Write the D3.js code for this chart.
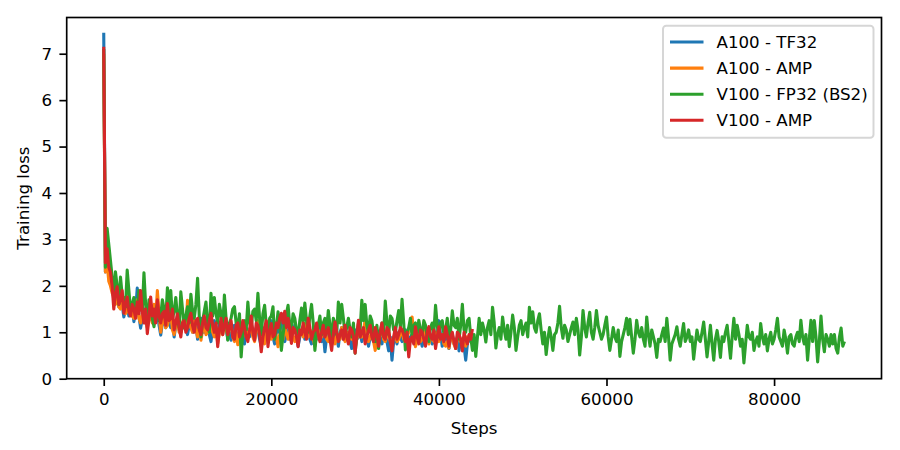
<!DOCTYPE html>
<html><head><meta charset="utf-8">
<script src="https://cdn.jsdelivr.net/npm/d3@7"></script>
<style>body{margin:0;background:#fff} text{font-family:"DejaVu Sans",sans-serif}</style>
</head><body><svg id="chart" width="900" height="450"></svg>
<script>
// ---- data ----
const seriesNames = ["A100 - TF32", "A100 - AMP", "V100 - FP32 (BS2)", "V100 - AMP"];
const seriesColors = ["#1f77b4", "#ff7f0e", "#2ca02c", "#d62728"];
const logInterval = 200; // steps between logged values

const a100Tf32 = [7.45,2.3, 2.6,2.35, 2.2,1.9, 2.16,1.8, 1.7,1.55, 1.85,1.6, 1.33,1.5, 1.6,1.35, 1.4,1.55, 1.23,1.45,
1.95,1.35, 1.09,1.3, 1.5,1.2, 1.3,1.45, 1.6,1.25, 1.2,1.35, 1.45,1.15, 0.94,1.2, 1.3,1.1, 1.5,1.2,
1.1,1.3, 0.9,1.15, 1.35,1.05, 1.0,1.2, 1.3,1.1, 0.95,1.15, 1.25,1.0, 1.1,1.2, 0.85,1.05, 1.3,1.0,
1.0,1.15, 1.2,0.95, 0.8,1.1, 1.25,1.0, 0.95,1.2, 1.1,1.3, 1.55,1.1, 0.85,1.0, 0.83,1.05, 1.15,0.95,
0.9,1.05, 1.2,0.95, 0.75,1.1, 1.0,0.9, 1.2,0.95, 0.85,1.1, 1.05,0.85, 0.7,1.0, 1.1,0.85, 0.9,1.1,
1.25,0.9, 0.75,1.0, 1.0,1.15, 1.3,1.0, 0.8,0.95, 1.05,0.85, 0.9,1.0, 1.15,0.95, 0.7,0.9, 1.0,1.1,
0.85,0.95, 1.1,0.85, 0.75,1.0, 0.95,0.85, 1.2,0.9, 0.8,1.0, 0.58,0.9, 1.33,1.05, 0.9,0.8, 1.0,0.9,
0.7,1.0, 1.1,0.85, 0.85,1.0, 0.95,0.8, 0.65,0.95, 1.05,0.85, 0.9,1.0, 0.8,0.95, 1.1,0.85, 0.7,0.9,
0.95,0.8, 0.85,1.05, 1.0,0.85, 0.75,0.95, 0.95,0.8, 0.6,0.9, 0.4,0.8, 0.9,0.75, 1.0,0.9, 0.8,0.95,
1.05,0.85, 0.62,0.9, 0.95,0.8, 0.8,0.95, 1.0,0.85, 0.7,0.9, 0.9,0.8, 1.05,0.9, 0.75,0.85, 1.0,0.9,
1.25,0.95, 0.7,0.85, 0.9,0.8, 0.65,0.9, 0.95,0.75, 0.8,0.9, 0.6,0.85, 0.85,0.7, 0.4,0.75, 0.9,0.8,
0.8];

const a100Amp = [7.0,2.3, 2.5,2.1, 2.0,1.85, 1.76,1.6, 1.9,1.55, 1.5,1.65, 1.75,1.4, 1.45,1.55, 1.6,1.35, 1.3,1.5,
1.7,1.3, 1.2,1.4, 1.45,1.25, 1.1,1.3, 1.35,1.2, 1.6,1.3, 1.9,1.4, 1.0,1.25, 1.3,1.1, 1.15,1.3,
1.4,1.05, 0.95,1.15, 1.25,1.0, 1.05,1.2, 1.35,1.1, 1.69,1.2, 1.1,1.0, 1.25,1.05, 0.9,1.1, 0.83,1.05,
1.2,0.95, 1.0,1.15, 1.3,1.0, 0.9,1.1, 0.76,1.0, 1.1,0.95, 1.3,1.05, 0.95,1.15, 1.15,0.9, 0.8,1.0,
0.73,0.95, 1.05,0.9, 1.2,1.0, 0.9,1.05, 1.1,0.9, 0.8,1.0, 1.25,1.0, 0.95,0.85, 0.75,1.0, 1.05,0.9,
0.85,1.05, 1.1,0.9, 0.69,0.95, 1.0,0.85, 1.2,0.95, 0.85,1.05, 1.0,0.9, 0.8,0.95, 0.83,1.0, 1.05,0.9,
1.19,0.95, 0.9,1.05, 1.0,0.85, 0.7,0.95, 1.05,0.85, 0.9,1.0, 1.1,0.85, 0.8,0.95, 1.0,0.85, 0.75,0.95,
0.95,0.85, 1.1,0.9, 0.8,1.0, 1.0,0.9, 0.85,0.95, 0.66,0.85, 1.0,0.9, 0.9,1.05, 1.26,0.95, 0.8,0.9,
1.05,0.8, 0.61,0.85, 0.9,0.95, 1.1,0.85, 0.8,0.95, 1.0,0.8, 0.75,0.9, 0.95,0.8, 0.85,0.95, 1.05,0.85,
0.8,0.9, 1.0,1.1, 1.33,0.95, 0.69,0.85, 0.95,0.8, 0.85,0.95, 1.05,0.9, 0.75,0.85, 0.9,0.8, 1.0,0.85,
0.8,0.9, 0.95,0.75, 0.7,0.8, 0.66,0.9, 0.9,0.75, 0.65,0.85, 0.95,0.8, 0.8,0.75, 0.7,0.9, 0.85];

const v100Fp32 = [7.1,2.4, 3.24,2.9, 2.55,2.2, 1.65,2.3, 2.0,1.6, 2.19,1.8, 1.7,1.55, 2.34,1.9, 1.47,1.6, 1.75,1.4,
1.5,1.9, 1.65,1.45, 2.28,1.6, 1.2,1.7, 1.55,1.3, 1.12,1.45, 1.6,1.25, 1.35,1.7, 1.5,1.25, 1.96,1.4,
1.9,1.3, 1.45,1.75, 1.33,1.1, 1.87,1.5, 1.09,1.35, 1.55,1.2, 1.82,1.45, 1.3,1.6, 2.16,1.35, 0.9,1.25,
1.45,1.65, 1.2,1.0, 1.84,1.35, 1.75,1.4, 1.2,1.6, 1.4,1.05, 1.8,1.3, 0.83,1.2, 1.3,1.5, 1.55,1.2,
1.1,1.4, 0.47,1.0, 1.25,1.05, 1.65,1.2, 1.1,1.45, 1.5,1.25, 1.84,1.3, 0.95,1.4, 1.58,1.15, 1.0,1.3,
1.35,1.55, 0.85,1.1, 1.44,1.2, 0.61,0.95, 1.2,1.4, 1.58,1.15, 1.05,1.4, 1.3,1.05, 0.9,1.25, 1.52,1.2,
1.63,1.25, 1.0,1.35, 1.6,1.2, 0.61,1.0, 1.15,1.35, 0.95,1.2, 1.3,1.0, 1.47,1.15, 0.85,1.3, 1.2,0.95,
1.65,1.2, 1.6,1.3, 0.95,1.1, 1.3,1.05, 0.9,1.2, 0.55,0.9, 1.2,1.05, 1.69,1.25, 1.6,1.15, 1.0,1.35,
1.25,0.95, 0.8,1.15, 0.65,1.0, 1.2,0.95, 1.67,1.2, 0.95,1.35, 1.3,1.05, 1.0,1.25, 1.47,1.1, 1.71,1.2,
0.62,1.0, 1.1,1.3, 0.9,1.15, 1.2,0.95, 1.26,1.05, 0.95,1.25, 1.15,0.9, 0.8,1.1, 1.2,1.0, 1.58,1.15,
0.9,1.2, 1.25,0.95, 1.05,1.3, 0.75,1.05, 1.46,1.15, 1.1,1.3, 0.85,1.15, 1.6,1.05, 1.0,1.25, 1.3,0.9,
0.61,0.95, 0.48,0.9, 1.3,0.95, 1.2,1.05, 0.79,1.1, 1.25,0.95, 1.54,1.2, 0.66,0.95, 1.1,0.85, 1.33,1.05,
0.85,1.15, 0.69,1.0, 1.37,1.1, 0.61,0.9, 1.15,1.25, 0.95,1.1, 1.2,0.9, 1.54,1.2, 1.44,1.1, 1.0,1.25,
1.4,1.05, 0.75,1.0, 0.52,0.85, 1.1,0.9, 0.61,0.95, 1.0,1.2, 1.56,1.1, 0.87,1.15, 1.05,0.8, 0.95,1.1,
1.22,0.95, 1.3,1.05, 0.51,0.9, 1.47,1.1, 0.9,1.2, 1.43,1.0, 0.85,1.1, 1.47,1.15, 1.0,0.85, 0.95,1.15,
1.33,0.9, 0.61,0.85, 1.1,0.9, 0.8,1.05, 0.48,0.8, 0.95,1.1, 1.3,0.95, 1.28,0.9, 0.55,0.85, 1.26,1.0,
0.9,1.1, 0.85,0.7, 1.33,0.95, 0.7,1.05, 0.9,0.75, 0.46,0.85, 0.8,0.95, 1.09,0.8, 1.3,0.9, 0.4,0.75,
0.85,0.95, 1.12,0.85, 0.7,0.95, 1.19,0.8, 0.9,1.05, 0.8,0.9, 0.42,0.75, 1.05,0.85, 0.8,1.0, 1.22,0.85,
0.47,0.8, 1.15,0.75, 0.4,0.85, 1.04,0.8, 0.46,0.9, 0.8,1.0, 1.15,0.8, 0.44,0.9, 1.3,0.85, 1.15,0.95,
0.7,0.85, 0.34,0.75, 1.15,0.9, 0.85,1.0, 0.61,0.8, 0.9,0.7, 1.19,0.9, 0.75,0.95, 0.6,0.85, 1.0,0.75,
0.85,1.05, 1.3,0.9, 0.8,0.7, 1.05,0.85, 0.55,0.9, 0.95,0.75, 0.7,0.9, 1.0,0.8, 1.26,0.9, 0.75,0.95,
0.4,0.85, 1.26,0.8, 1.25,0.9, 0.36,0.8, 1.35,0.85, 0.58,0.95, 0.85,0.7, 0.95,0.75, 0.95,0.65, 0.55,0.9,
1.09,0.7, 0.8];

const v100Amp = [7.15,2.5, 2.8,2.4, 2.3,2.0, 1.5,1.85, 1.98,1.6, 1.7,1.9, 1.41,1.6, 1.76,1.45, 1.35,1.6, 1.5,1.3,
1.65,1.4, 1.9,1.45, 1.2,1.5, 0.97,1.3, 1.76,1.35, 1.5,1.2, 1.7,1.35, 1.2,1.4, 1.45,1.15, 1.62,1.25,
1.3,1.5, 1.05,1.2, 1.4,1.1, 0.9,1.2, 1.25,1.0, 1.1,1.3, 1.41,1.15, 1.0,1.25, 1.3,1.05, 0.95,1.2,
1.35,1.1, 1.05,1.25, 1.41,1.15, 1.0,1.2, 0.69,1.05, 1.3,0.95, 1.15,1.3, 0.95,1.1, 1.25,0.9, 0.85,1.15,
1.2,0.9, 1.0,1.25, 1.1,0.9, 0.8,1.05, 1.35,1.0, 0.83,1.2, 1.15,0.95, 0.58,0.9, 1.1,1.25, 0.69,1.0,
1.19,0.9, 0.95,1.2, 1.1,1.3, 1.41,1.2, 1.45,1.1, 1.3,1.05, 0.76,1.1, 1.05,0.9, 0.69,1.05, 0.95,1.2,
1.0,0.85, 1.3,1.1, 0.85,1.0, 1.05,1.2, 0.95,0.8, 1.0,1.15, 0.9,1.0, 1.1,0.85, 0.61,0.95, 1.22,1.0,
0.8,0.95, 1.05,0.85, 1.15,0.9, 0.75,1.1, 1.05,0.9, 0.55,0.95, 1.26,0.9, 1.0,1.1, 0.75,0.9, 1.05,1.15,
0.9,0.8, 1.1,0.95, 0.7,1.0, 1.2,0.9, 0.85,1.1, 1.05,0.8, 0.6,0.9, 1.1,0.85, 0.95,1.1, 1.05,0.95,
0.8,1.0, 0.47,0.85, 0.9,0.75, 1.12,0.9, 0.75,1.05, 1.0,0.85, 0.7,1.0, 1.12,0.9, 0.85,1.05, 0.65,0.9,
1.12,0.85, 0.95,0.8, 1.12,0.95, 0.7,0.9, 1.0,0.8, 0.65,1.0, 0.95,0.85, 0.6,1.0, 0.85,0.75, 0.95,0.85,
1.07];

const seriesValues = [a100Tf32, a100Amp, v100Fp32, v100Amp];
const xTicks = [0, 20000, 40000, 60000, 80000];
const yTicks = [0, 1, 2, 3, 4, 5, 6, 7];
const xLabel = "Steps";
const yLabel = "Training loss";

// ---- layout ----
const L = 66.7, R = 881.5, T = 17.5, B = 378.7;
const FS = 16.67;
const svg = d3.select("#chart");

const x = d3.scaleLinear().domain([-4420, 92820]).range([L, R]);
const y = d3.scaleLinear().domain([0, 7.78]).range([B, T]);

svg.append("defs").append("clipPath").attr("id", "clip")
  .append("rect").attr("x", L).attr("y", T).attr("width", R - L).attr("height", B - T);

const line = d3.line()
  .x((d, i) => x(i * logInterval))
  .y(d => y(d));

const plot = svg.append("g").attr("clip-path", "url(#clip)");
seriesValues.forEach((vals, k) => {
  plot.append("path").datum(vals)
    .attr("d", line)
    .attr("fill", "none")
    .attr("stroke", seriesColors[k])
    .attr("stroke-width", 3.1)
    .attr("stroke-linejoin", "round");
});

// axes
const xAxis = d3.axisBottom(x).tickValues(xTicks).tickFormat(d3.format("d"))
  .tickSize(7.3).tickPadding(7.3);
const yAxis = d3.axisLeft(y).tickValues(yTicks).tickFormat(d3.format("d"))
  .tickSize(7.3).tickPadding(7.3);

const gx = svg.append("g").attr("transform", `translate(0,${B})`).call(xAxis);
const gy = svg.append("g").attr("transform", `translate(${L},0)`).call(yAxis);
[gx, gy].forEach(g => {
  g.select(".domain").remove();
  g.selectAll(".tick line").attr("stroke", "#000").attr("stroke-width", 1.67);
  g.selectAll(".tick text").attr("fill", "#000").style("font-size", FS + "px")
    .style("font-family", "DejaVu Sans");
});

// frame
svg.append("rect").attr("x", L).attr("y", T).attr("width", R - L).attr("height", B - T)
  .attr("fill", "none").attr("stroke", "#000").attr("stroke-width", 1.67);

// labels
svg.append("text").attr("x", (L + R) / 2).attr("y", 434).attr("text-anchor", "middle")
  .style("font-size", FS + "px").text(xLabel);
svg.append("text").attr("transform", `translate(28.5,${(T + B) / 2}) rotate(-90)`)
  .attr("text-anchor", "middle").style("font-size", FS + "px").text(yLabel);

// legend
const lg = svg.append("g");
lg.append("rect").attr("x", 663).attr("y", 25.8).attr("width", 210.5).attr("height", 112)
  .attr("rx", 3.3).attr("fill", "#fff").attr("fill-opacity", 0.8)
  .attr("stroke", "#cccccc").attr("stroke-opacity", 0.8).attr("stroke-width", 2);
seriesNames.forEach((name, k) => {
  const cy = 42 + 26.1 * k;
  lg.append("line").attr("x1", 670).attr("x2", 703.5).attr("y1", cy).attr("y2", cy)
    .attr("stroke", seriesColors[k]).attr("stroke-width", 3.1);
  lg.append("text").attr("x", 716.5).attr("y", cy + 6).style("font-size", FS + "px")
    .attr("fill", "#000").text(name);
});
</script></body></html>
